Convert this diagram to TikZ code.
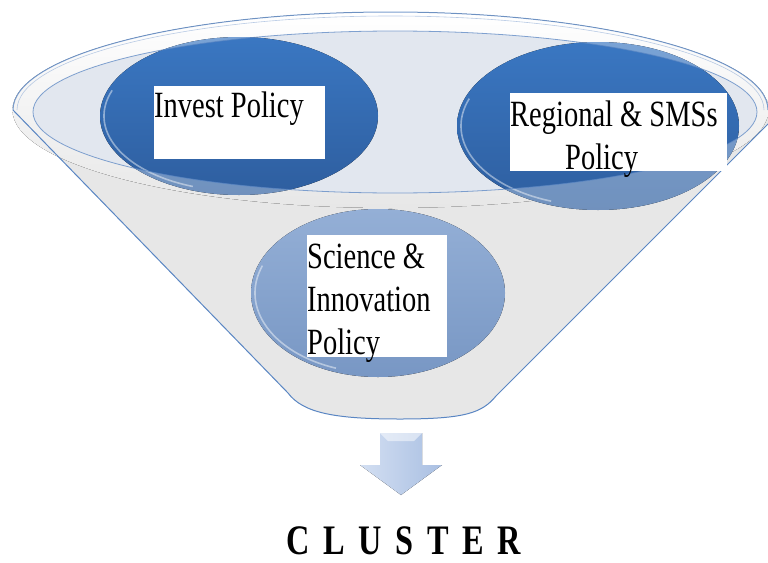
\documentclass[tikz,border=0pt]{standalone}
\usepackage{fontspec}
\setmainfont{Liberation Serif}
\usepackage{graphicx}
\usetikzlibrary{calc}

\definecolor{rimblue}{HTML}{5A86C3}
\definecolor{funnelgray}{HTML}{E7E7E7}
\definecolor{innerfill}{HTML}{E2E7EF}
\definecolor{darkblue}{HTML}{3A77C2}
\definecolor{deepblue}{HTML}{2E5E9F}
\definecolor{paleblue}{HTML}{94AFD6}
\definecolor{midblue}{HTML}{7897C4}
\definecolor{arrowlight}{HTML}{D3DFF2}
\definecolor{arrowdark}{HTML}{A9BFE2}

% narrow the serif text a little
\newcommand{\squeeze}[1]{\scalebox{0.77}[1]{#1}}

\tikzset{
  policy/.style={fill=white, inner sep=0pt, anchor=north west,
    font=\fontsize{37}{43}\selectfont},
  bubble/.style={top color=darkblue, bottom color=deepblue},
  softbubble/.style={top color=paleblue, bottom color=midblue},
  rimline/.style={draw=rimblue, line width=1pt},
}

\begin{document}
\begin{tikzpicture}[x=1pt,y=-1pt]
\useasboundingbox (0,0) rectangle (768,562);
% funnel body
\fill[funnelgray] (13,110) -- (288,393) .. controls (303,413) and (335,419) .. (400,419)
  .. controls (465,419) and (482,413) .. (496,396) -- (772,120) -- (772,100) -- cycle;
\fill[top color=white, bottom color=funnelgray] (390.5,110) ellipse [x radius=378, y radius=98];
\fill[innerfill] (395,112) ellipse [x radius=362, y radius=81];
\draw[rimline] (13,110) -- (288,393) .. controls (303,413) and (335,419) .. (400,419)
  .. controls (465,419) and (482,413) .. (496,396) -- (772,120);

% the three policy bubbles
\fill[bubble] (239,116) ellipse [x radius=139, y radius=79];
\fill[bubble] (598,126) ellipse [x radius=141, y radius=84];
\fill[softbubble] (378,293) ellipse [x radius=127, y radius=84];
\foreach \cx/\cy/\rx/\ry in {239/116/139/79, 598/126/141/84}{
  \begin{scope}
    \clip (\cx,\cy) ellipse [x radius=\rx, y radius=\ry];
    \fill[white, opacity=0.32, even odd rule] (0,0) rectangle (768,562)
      (395,112) ellipse [x radius=362, y radius=81];
  \end{scope}
}
% glossy lower edges
\foreach \cx/\cy/\rx/\ry in {239/116/139/79, 598/126/141/84, 378/293/127/84}{
  \draw[white, opacity=0.45, line width=1.6pt]
    ($(\cx,\cy)+(110:\rx-4 and \ry-4)$) arc [start angle=110, end angle=200,
    x radius=\rx-4, y radius=\ry-4];
}

% rim lines over everything
\draw[rimline, opacity=0.8] (768,110) arc [start angle=0, end angle=-180, x radius=377.5, y radius=98];
\draw[draw=rimblue!60, line width=0.6pt, opacity=0.7] (764,110) arc [start angle=0, end angle=-180, x radius=373.5, y radius=94];
\draw[draw=rimblue, line width=0.8pt, opacity=0.75] (395,112) ellipse [x radius=362, y radius=81];

% labels
\node[policy] (invest) at (154,86)
  {\parbox[t][73pt][t]{171pt}{\vspace*{6pt}\squeeze{Invest Policy}}};
\node[policy] (regional) at (510,93)
  {\parbox[t][78pt][t]{217pt}{\vspace*{8pt}\squeeze{Regional \& SMSs}\\
   \hspace*{55pt}\squeeze{Policy}}};
\node[policy] (science) at (307,235)
  {\parbox[t][122pt][t]{140pt}{\vspace*{9pt}\squeeze{Science \&}\\
   \squeeze{Innovation}\\\squeeze{Policy}}};

% down arrow
\fill[left color=arrowlight, right color=arrowdark] (380,433) -- (422,433) -- (422,465)
  -- (442,465) -- (401,495) -- (360,465) -- (380,465) -- cycle;
\fill[white, opacity=0.5] (380,433) -- (422,433) -- (414,441) -- (388,441) -- cycle;

\node[inner sep=0pt, font=\fontsize{42}{42}\selectfont\bfseries] (cluster) at (404,541)
  {\squeeze{\addfontfeature{LetterSpace=42}CLUSTER}};
\end{tikzpicture}
\end{document}
